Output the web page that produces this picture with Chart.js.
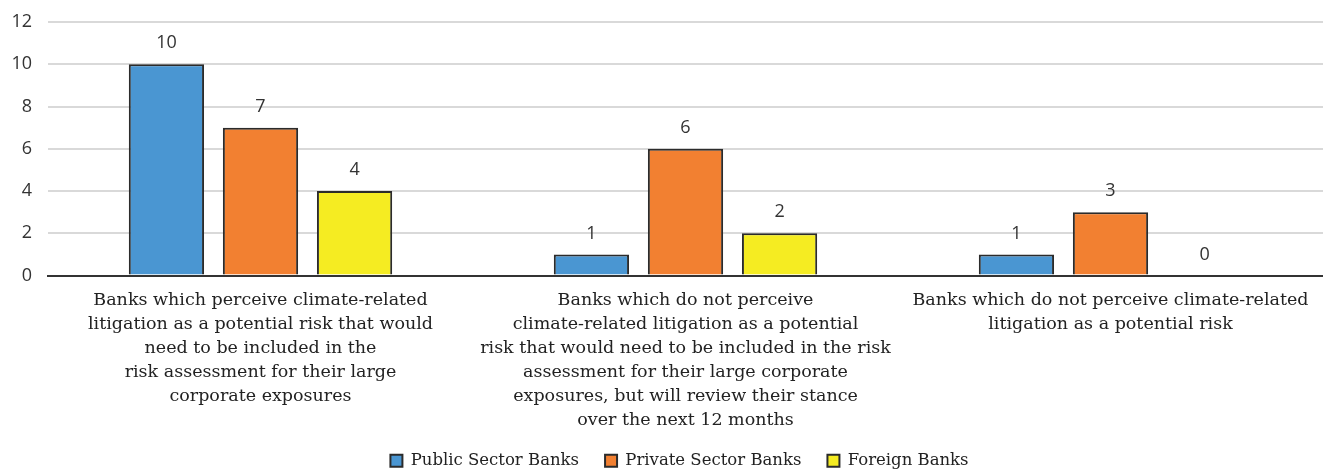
<!DOCTYPE html>
<html>
<head>
<meta charset="utf-8">
<script src="https://cdn.jsdelivr.net/npm/chart.js@4.4.0/dist/chart.umd.min.js"></script>
<style>
  html, body { margin: 0; padding: 0; background: #fff; }
  #wrap { width: 1323px; height: 472px; position: relative; }
</style>
</head>
<body>
<div id="wrap"><canvas id="litigationChart"></canvas></div>
<script>
const categories = [
    ['Banks which perceive climate-related', 'litigation as a potential risk that would', 'need to be included in the', 'risk assessment for their large', 'corporate exposures'],
    ['Banks which do not perceive', 'climate-related litigation as a potential', 'risk that would need to be included in the risk', 'assessment for their large corporate', 'exposures, but will review their stance', 'over the next 12 months'],
    ['Banks which do not perceive climate-related', 'litigation as a potential risk']
];
const publicSector = [10, 1, 1];
const privateSector = [7, 6, 3];
const foreignBanks = [4, 2, 0];

const serifFont = "'DejaVu Serif', serif";
const sansFont = "'Open Sans', 'Noto Sans', sans-serif";

// writes each bar's value just above it
const valueLabels = {
    id: 'valueLabels',
    afterDatasetsDraw(chart) {
        const ctx = chart.ctx;
        ctx.save();
        ctx.font = '18px ' + sansFont;
        ctx.fillStyle = '#333';
        ctx.textAlign = 'center';
        ctx.textBaseline = 'bottom';
        chart.data.datasets.forEach((ds, i) => {
            chart.getDatasetMeta(i).data.forEach((bar, j) => {
                ctx.fillText(ds.data[j], bar.x, bar.y - 12);
            });
        });
        ctx.restore();
    }
};

// centre the legend under the plot area rather than the whole canvas
const legendUnderPlot = {
    id: 'legendUnderPlot',
    afterLayout(chart) {
        if (chart.legend) chart.legend.left = chart.chartArea.left - 12;
    }
};

const ctx = document.getElementById('litigationChart').getContext('2d');
new Chart(ctx, {
    type: 'bar',
    data: {
        labels: categories,
        datasets: [
            { label: 'Public Sector Banks', data: publicSector, backgroundColor: '#4a96d2' },
            { label: 'Private Sector Banks', data: privateSector, backgroundColor: '#f28031' },
            { label: 'Foreign Banks', data: foreignBanks, backgroundColor: '#f5ec22' }
        ].map(d => Object.assign(d, {
            borderColor: '#2b2b2b',
            borderWidth: 2,
            categoryPercentage: 0.664,
            barPercentage: 0.8
        }))
    },
    options: {
        responsive: true,
        maintainAspectRatio: false,
        animation: false,
        layout: { padding: { top: 22, right: 0, left: 0, bottom: -7 } },
        scales: {
            x: {
                afterFit(scale) { scale.height = 151; },
                grid: { display: false, drawTicks: false },
                border: { color: '#333', width: 2 },
                ticks: {
                    color: '#222',
                    font: { family: serifFont, size: 17.5, lineHeight: 1.37 },
                    padding: 13,
                    maxRotation: 0,
                    autoSkip: false
                }
            },
            y: {
                min: 0,
                max: 12,
                afterFit(scale) {
                    scale.width = 48;
                    scale.paddingTop = 0;
                },
                grid: { color: '#d9d9d9', lineWidth: 2, drawTicks: false },
                border: { display: false },
                ticks: {
                    stepSize: 2,
                    color: '#333',
                    padding: 16,
                    font: { family: sansFont, size: 18 }
                }
            }
        },
        plugins: {
            legend: {
                position: 'bottom',
                labels: {
                    color: '#222',
                    font: { family: serifFont, size: 16.5 },
                    boxWidth: 12,
                    boxHeight: 12,
                    padding: 26
                }
            },
            tooltip: { enabled: false }
        }
    },
    plugins: [valueLabels, legendUnderPlot]
});
</script>
</body>
</html>
